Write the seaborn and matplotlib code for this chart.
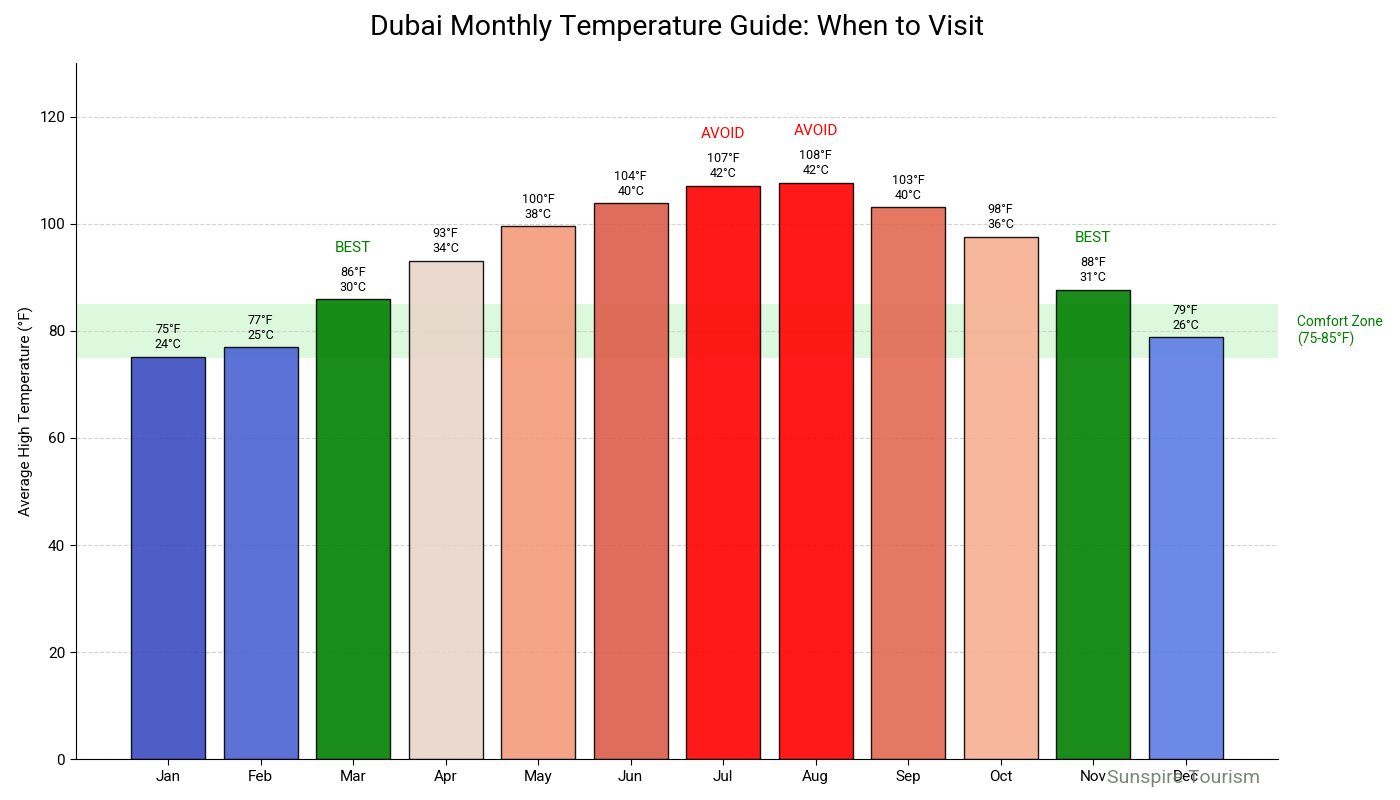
import matplotlib
matplotlib.use("Agg")
import matplotlib.pyplot as plt
import matplotlib.colors as mcolors
import seaborn as sns
import pandas as pd

# -- data
months = ["Jan", "Feb", "Mar", "Apr", "May", "Jun",
          "Jul", "Aug", "Sep", "Oct", "Nov", "Dec"]
temps_f = [75.2, 76.9, 85.9, 93.1, 99.5, 103.8,
           107.1, 107.7, 103.1, 97.6, 87.7, 78.8]
temps_c = [24, 25, 30, 34, 38, 40, 42, 42, 40, 36, 31, 26]
best_months = ["Mar", "Nov"]
avoid_months = ["Jul", "Aug"]
comfort_low, comfort_high = 75, 85

sns.set_style("white")
plt.rcParams['font.family'] = ['Roboto', 'DejaVu Sans']
plt.rcParams['text.color'] = 'black'
plt.rcParams['axes.labelcolor'] = 'black'
plt.rcParams['xtick.color'] = 'black'
plt.rcParams['ytick.color'] = 'black'
plt.rcParams['axes.edgecolor'] = 'black'

df = pd.DataFrame({"Month": months, "TempF": temps_f, "TempC": temps_c})

# colours: coolwarm by temperature, green for best, red for avoid
norm = mcolors.Normalize(vmin=min(temps_f), vmax=max(temps_f))
cmap = plt.get_cmap("coolwarm")
palette = {}
for m, t in zip(months, temps_f):
    if m in best_months:
        palette[m] = "green"
    elif m in avoid_months:
        palette[m] = "red"
    else:
        palette[m] = cmap(norm(t))

fig, ax = plt.subplots(figsize=(14, 8), dpi=100)
fig.subplots_adjust(left=0.054, right=0.913, top=0.921, bottom=0.051)

ax.axhspan(comfort_low, comfort_high, color="lightgreen", alpha=0.3, zorder=0, lw=0)
ax.yaxis.grid(True, linestyle="--", color="lightgray", linewidth=0.8, zorder=1)
ax.set_axisbelow(True)

sns.barplot(data=df, x="Month", y="TempF", hue="Month", palette=palette,
            legend=False, width=0.8, edgecolor="black", linewidth=1,
            saturation=1, alpha=0.9, ax=ax, zorder=2)

for i, row in df.iterrows():
    ax.text(i, row["TempF"] + 1, f"{round(row['TempF'])}°F\n{row['TempC']}°C",
            ha="center", va="bottom", fontsize=9, linespacing=1.2)
    if row["Month"] in best_months:
        ax.text(i, row["TempF"] + 9.6, "BEST", ha="center", va="center",
                fontsize=11, color="green")
    elif row["Month"] in avoid_months:
        ax.text(i, row["TempF"] + 9.6, "AVOID", ha="center", va="center",
                fontsize=11, color="red")

ax.text(12.2, 80, "Comfort Zone\n(75-85°F)", ha="left", va="center",
        fontsize=10, color="green")

ax.set_xlim(-1, 12)
ax.set_ylim(0, 130)
ax.set_xlabel("")
ax.set_ylabel("Average High Temperature (°F)", fontsize=11)
ax.tick_params(axis="both", labelsize=11, bottom=True, left=True, length=4)
ax.set_title("Dubai Monthly Temperature Guide: When to Visit", fontsize=20.5, pad=20)
sns.despine(ax=ax)

fig.text(0.9, 0.027, "Sunspire Tourism", ha="right", va="center",
         fontsize=14, color="#6b7b6b", alpha=0.9)

fig.savefig("out.png", dpi=100)
